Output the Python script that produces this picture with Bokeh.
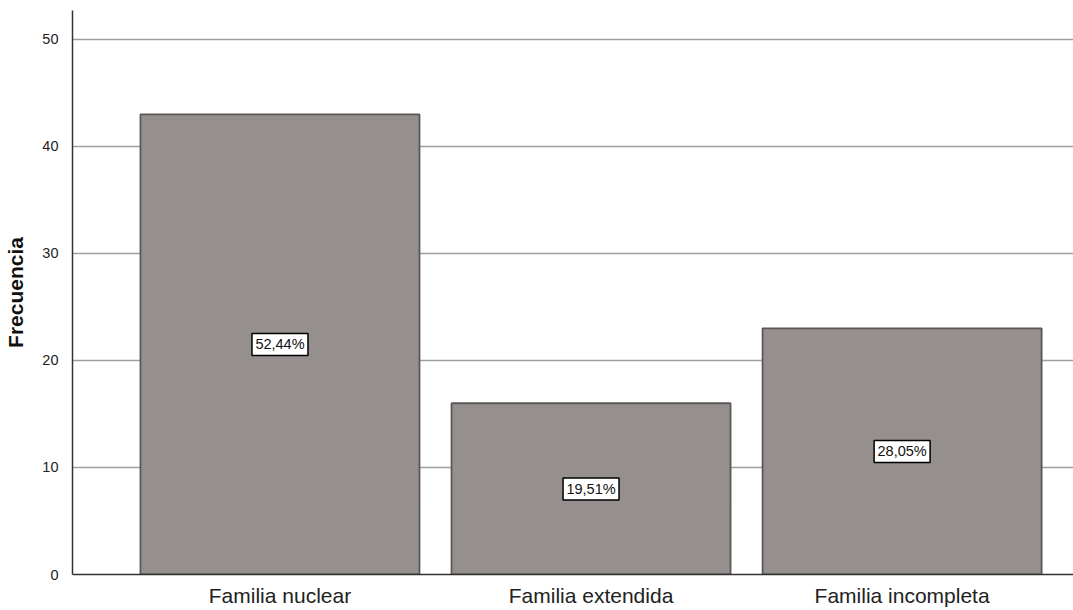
from bokeh.plotting import figure
from bokeh.models import Range1d, FixedTicker, ColumnDataSource
from bokeh.core.properties import value
from bokeh.embed import file_html
from bokeh.resources import INLINE

categories = ["Familia nuclear", "Familia extendida", "Familia incompleta"]
frecuencia = [43, 16, 23]
porcentaje = ["52,44%", "19,51%", "28,05%"]
y_ticks = [0, 10, 20, 30, 40, 50]

xs = list(range(len(categories)))
src = ColumnDataSource(dict(
    x=xs,
    top=frecuencia,
    mid=[v / 2 for v in frecuencia],
    pct=porcentaje,
))

p = figure(width=1073, height=610, output_backend="svg", toolbar_location=None,
           x_range=Range1d(-0.667, 2.551), y_range=Range1d(0, 52.7),
           min_border_left=72, min_border_right=0, min_border_top=10, min_border_bottom=36)
p.outline_line_color = None
p.background_fill_color = "white"
p.border_fill_color = "white"

p.vbar(x="x", top="top", bottom=0, width=0.897, source=src,
       fill_color="#958f8e", line_color="#5c5858", line_width=1.8)

p.rect(x="x", y="mid", width=56, height=22, width_units="screen", height_units="screen",
       source=src, fill_color="white", line_color="black", line_width=1.5)
p.text(x="x", y="mid", text="pct", source=src, text_align="center", text_baseline="middle",
       text_font=value("Liberation Sans"), text_font_size="14.5px", text_color="#111111")

p.xgrid.grid_line_color = None
p.ygrid.grid_line_color = "#9e9e9e"
p.ygrid.grid_line_width = 1.5
p.ygrid.level = "underlay"

p.yaxis.ticker = FixedTicker(ticks=y_ticks)
p.yaxis.major_tick_line_color = None
p.yaxis.minor_tick_line_color = None
p.yaxis.major_label_standoff = 8
p.yaxis.major_label_text_font = "Liberation Sans"
p.yaxis.major_label_text_font_size = "14.5px"
p.yaxis.major_label_text_color = "#222222"
p.yaxis.axis_line_color = "#333333"
p.yaxis.axis_line_width = 1.5
p.yaxis.axis_label = "Frecuencia"
p.yaxis.axis_label_text_font = "Liberation Sans"
p.yaxis.axis_label_text_font_style = "bold"
p.yaxis.axis_label_text_font_size = "21px"
p.yaxis.axis_label_text_color = "#111111"
p.yaxis.axis_label_standoff = 12

p.xaxis.ticker = FixedTicker(ticks=xs)
p.xaxis.major_label_overrides = {i: c for i, c in enumerate(categories)}
p.xaxis.major_tick_line_color = None
p.xaxis.minor_tick_line_color = None
p.xaxis.major_label_standoff = 3
p.xaxis.major_label_text_font = "Liberation Sans"
p.xaxis.major_label_text_font_size = "21px"
p.xaxis.major_label_text_color = "#222222"
p.xaxis.axis_line_color = "#333333"
p.xaxis.axis_line_width = 1.5

open("out.html", "w").write(file_html(p, INLINE))
